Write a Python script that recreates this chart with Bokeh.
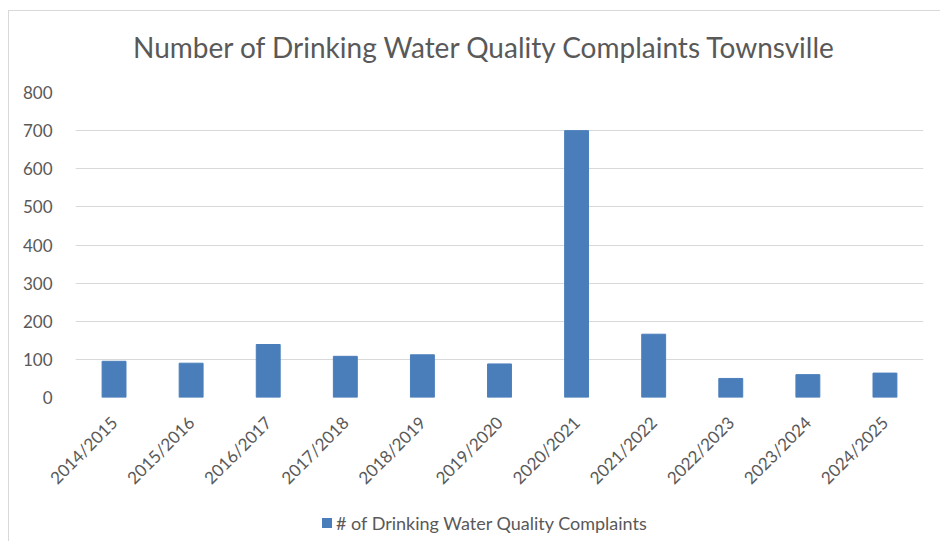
import math
from bokeh.plotting import figure
from bokeh.layouts import column
from bokeh.models import ColumnDataSource, Range1d, FixedTicker, Div
from bokeh.embed import file_html
from bokeh.resources import INLINE

years = ["2014/2015", "2015/2016", "2016/2017", "2017/2018", "2018/2019", "2019/2020",
         "2020/2021", "2021/2022", "2022/2023", "2023/2024", "2024/2025"]
complaints = [95, 90, 139, 108, 112, 88, 700, 166, 50, 60, 64]
y_ticks = [0, 100, 200, 300, 400, 500, 600, 700, 800]

title_text = "Number of Drinking Water Quality Complaints Townsville"
series_name = "# of Drinking Water Quality Complaints"

FONT = "Lato"
GREY = "#595959"
BAR = "#4a7ebb"

src = ColumnDataSource(dict(x=years, y=complaints))

title_div = Div(
    text=f'<div style="padding-left:124px;padding-top:19px;line-height:34px;white-space:nowrap;">{title_text}</div>',
    width=931, height=69, margin=(0, 0, 0, 0),
    styles={"font-family": FONT, "font-size": "28px", "color": GREY})

p = figure(x_range=years, y_range=Range1d(0, 800), width=931, height=421,
           output_backend="svg", toolbar_location=None,
           min_border_left=66, min_border_right=17, min_border_top=12, min_border_bottom=104)

r = p.vbar(x="x", top="y", width=0.31, source=src, fill_color=BAR, line_color=BAR)

p.outline_line_color = None
p.xgrid.grid_line_color = None
p.ygrid.grid_line_color = "#d9d9d9"
p.ygrid.grid_line_width = 1
p.yaxis.ticker = FixedTicker(ticks=y_ticks)

for ax in (p.xaxis[0], p.yaxis[0]):
    ax.axis_line_color = None
    ax.major_tick_line_color = None
    ax.minor_tick_line_color = None
    ax.major_label_text_font = FONT
    ax.major_label_text_font_size = "17px"
    ax.major_label_text_color = GREY

p.yaxis.major_label_standoff = 17
p.xaxis.major_label_orientation = math.pi / 4
p.xaxis.major_label_standoff = 16

p.background_fill_color = "white"
p.border_fill_color = "white"

legend_html = (
    f'<div style="padding-left:313px;line-height:40px;white-space:nowrap;">'
    f'<span style="display:inline-block;width:10px;height:10px;background:{BAR};'
    f'margin-right:4px;vertical-align:middle;"></span>'
    f'<span style="vertical-align:middle;">{series_name}</span></div>'
)
legend_div = Div(text=legend_html, width=931, height=40, margin=(0, 0, 0, 0),
                 styles={"font-family": FONT, "font-size": "18px", "color": GREY})

layout = column(title_div, p, legend_div, margin=(10, 0, 0, 8), spacing=0,
                styles={"border-top": "1px solid #d9d9d9", "border-left": "1px solid #d9d9d9"})

open("out.html", "w").write(file_html(layout, INLINE))
